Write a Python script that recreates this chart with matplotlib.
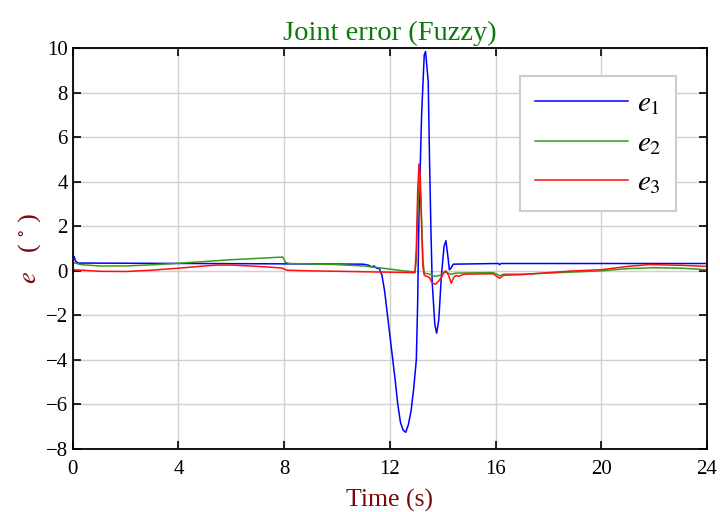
import numpy as np
import matplotlib
matplotlib.use("Agg")
import matplotlib.pyplot as plt

plt.rcParams['font.family'] = ['Liberation Serif', 'DejaVu Serif']
plt.rcParams['mathtext.fontset'] = 'stix'

# blue curve e1
t1 = [0, 0.05, 0.1, 0.2, 11.0, 11.2, 11.3, 11.4, 11.5, 11.6, 11.7, 11.8, 11.9,
      12.0, 12.1, 12.2, 12.3, 12.4, 12.5, 12.6, 12.7, 12.8, 12.9, 13.0, 13.05,
      13.1, 13.2, 13.3, 13.35, 13.45, 13.5, 13.55, 13.6, 13.7, 13.77, 13.85,
      13.95, 14.05, 14.12, 14.2, 14.25, 14.3, 14.4, 16.1, 16.15, 16.2, 24]
e1 = [0.35, 0.65, 0.45, 0.35, 0.3, 0.25, 0.18, 0.22, 0.12, 0.1, -0.2, -0.9, -1.9,
      -2.9, -3.9, -4.9, -6.0, -6.8, -7.15, -7.25, -6.9, -6.3, -5.3, -4.0, -1.5,
      2.5, 7.0, 9.7, 9.85, 8.5, 5.0, 2.0, -0.5, -2.4, -2.8, -2.2,
      -0.2, 1.1, 1.35, 0.6, 0.05, 0.1, 0.3, 0.33, 0.28, 0.33, 0.33]

# green curve e2
t2 = [0, 0.3, 1, 2, 3, 4, 5, 6, 7, 7.95, 8.05, 8.2, 10, 11, 11.5, 12, 12.5,
      12.95, 13.0, 13.05, 13.12, 13.18, 13.25, 13.3, 13.5, 13.7, 13.9, 14.1,
      14.3, 14.5, 15.9, 16.05, 16.15, 16.3, 17, 18, 19, 20, 21, 22, 23, 24]
e2 = [0.38, 0.28, 0.22, 0.22, 0.27, 0.34, 0.42, 0.5, 0.56, 0.62, 0.38, 0.33,
      0.28, 0.22, 0.15, 0.08, 0.0, -0.05, 0.5, 2.5, 4.3, 3.0, 0.5, -0.1, -0.15,
      -0.25, -0.2, -0.05, -0.15, -0.1, -0.08, -0.15, -0.22, -0.15, -0.15, -0.1,
      -0.05, 0.0, 0.1, 0.14, 0.12, 0.05]

# red curve e3
t3 = [0, 0.5, 1, 2, 3, 4, 5, 5.5, 6, 7, 7.9, 8.1, 9, 10, 11, 12, 12.95, 13.0,
      13.05, 13.1, 13.15, 13.2, 13.25, 13.3, 13.5, 13.6, 13.72, 13.85, 13.95,
      14.05, 14.12, 14.22, 14.32, 14.42, 14.5, 14.6, 14.8, 15.9, 16.05, 16.15,
      16.3, 17, 18, 19, 20, 21, 21.8, 23, 24]
e3 = [0.05, 0.02, -0.02, -0.03, 0.03, 0.12, 0.22, 0.26, 0.26, 0.2, 0.13, 0.03,
      0.0, -0.02, -0.04, -0.06, -0.08, 1.0, 3.5, 4.8, 4.2, 2.0, 0.2, -0.2, -0.3,
      -0.55, -0.6, -0.45, -0.3, -0.05, 0.0, -0.2, -0.55, -0.3, -0.2, -0.25,
      -0.15, -0.13, -0.25, -0.33, -0.2, -0.17, -0.08, 0.0, 0.05, 0.2, 0.28,
      0.25, 0.2]

xticks = [0, 4, 8, 12, 16, 20, 24]
yticks = [-8, -6, -4, -2, 0, 2, 4, 6, 8, 10]

fig = plt.figure(figsize=(7.2, 5.12), dpi=100)
ax = fig.add_axes([0.101, 0.123, 0.881, 0.783])

ax.plot(t1, e1, color='#0000ff', lw=1.1, label='$e_1$')
ax.plot(t2, e2, color='#3a9a1a', lw=1.1, label='$e_2$')
ax.plot(t3, e3, color='#ff1010', lw=1.1, label='$e_3$')

ax.set_xlim(0, 24)
ax.set_ylim(-8, 10)
ax.set_xticks(xticks)
ax.set_yticks(yticks)
ax.set_yticklabels([str(v).replace('-', '\u2212') for v in yticks])
ax.tick_params(direction='in', top=True, right=True, labelsize=15, length=6,
               width=1.2)
ax.tick_params(axis='x', pad=8)
ax.grid(True, color='#d0d0d0', lw=1.0)
ax.set_axisbelow(True)
for s in ax.spines.values():
    s.set_linewidth(1.3)

ax.set_title('Joint error (Fuzzy)', color='#0a7a0a', fontsize=20.5, pad=6)
ax.set_xlabel('Time (s)', color='#7a0a0a', fontsize=18.5, labelpad=7)
ax.set_ylabel(r'$e$   ( $^{\circ}$ )', color='#7a0a0a', fontsize=19, labelpad=2)

leg = ax.legend(loc='upper right', bbox_to_anchor=(0.951, 0.93), fontsize=21,
                handlelength=3.2, handletextpad=0.3, labelspacing=0.45,
                borderpad=0.5, borderaxespad=0, fancybox=False, framealpha=1,
                edgecolor='#cccccc')
leg.get_frame().set_linewidth(1.5)

fig.savefig('out.png', dpi=100)
